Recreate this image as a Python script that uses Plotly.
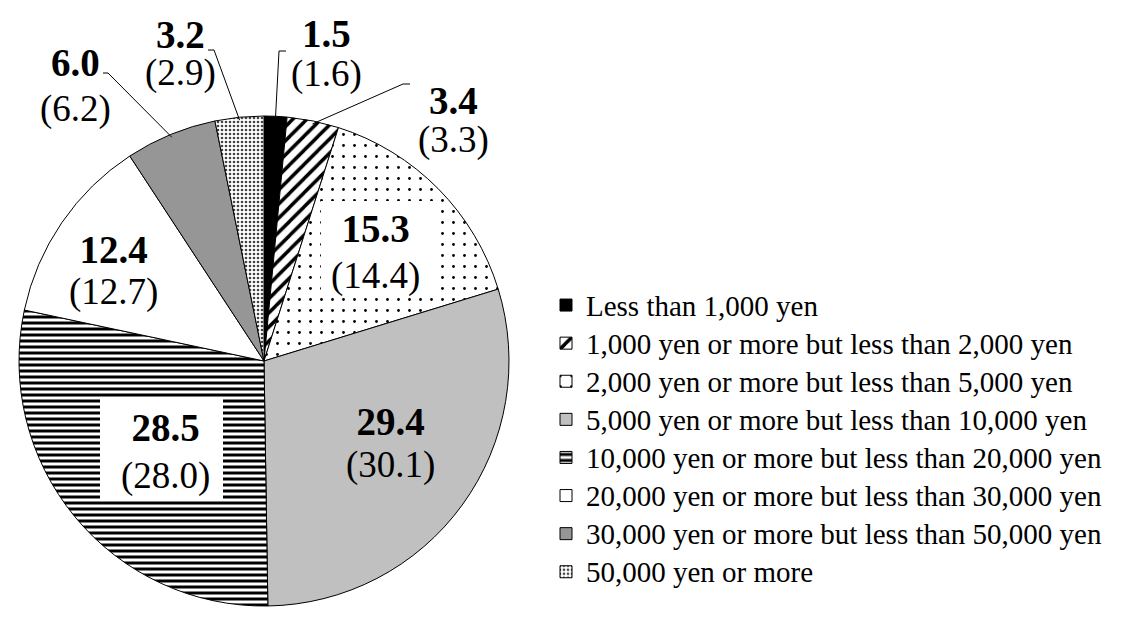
import math
import plotly.graph_objects as go

# ---------------- data ----------------
categories = [
    "Less than 1,000 yen",
    "1,000 yen or more but less than 2,000 yen",
    "2,000 yen or more but less than 5,000 yen",
    "5,000 yen or more but less than 10,000 yen",
    "10,000 yen or more but less than 20,000 yen",
    "20,000 yen or more but less than 30,000 yen",
    "30,000 yen or more but less than 50,000 yen",
    "50,000 yen or more",
]
current_pct = [1.5, 3.4, 15.3, 29.4, 28.5, 12.4, 6.0, 3.2]
previous_pct = [1.6, 3.3, 14.4, 30.1, 28.0, 12.7, 6.2, 2.9]

# ---------------- layout constants (pixels) ----------------
W, H = 1128, 621
CX, CY, R = 256, 353, 245

FONT = "Times New Roman, Liberation Serif, serif"
LEGEND_TEXT_PX = 29
BOLD_PX = 39
PAREN_PX = 37

fill_colors = ["#000000", "#ffffff", "#ffffff", "#c0c0c0", "#ffffff", "#ffffff", "#969696", "#ffffff"]
pat_shapes = ["", "/", ".", "", "-", "", "", "."]
pat_size = [8, 10, 11, 8, 6, 8, 8, 4]
pat_solid = [0.3, 0.35, 0.05, 0.3, 0.5, 0.3, 0.3, 0.35]
pat_fg = ["#000000", "#000000", "#000000", "#000000", "#000000", "#000000", "#000000", "#444444"]
pat_bg = fill_colors

# label placement (pixel centres) for bold value and bracketed value
label_pos = [
    ((318, 26), (319, 65)),
    ((444, 93), (446, 131)),
    ((367, 221), (367, 267)),
    ((382, 414), (382, 456)),
    ((158, 420), (157, 467)),
    ((103, 242), (108, 283)),
    ((67, 55), (68, 100)),
    ((173, 27), (171, 64)),
]
# leader lines for small slices: index -> (elbow, end)
leaders = {
    0: ((271, 43), (278, 43)),
    1: ((395, 76), (402, 76)),
    7: ((206, 42), (200, 42)),
    6: ((100, 65), (95, 65)),
}
# white boxes behind some labels (x0, y0, x1, y1)
boxes = [(313, 193, 430, 288), (92, 390, 215, 492)]


def px(x):
    return x / W


def py(y):
    return 1 - y / H


legend_labels = [f"<span style='font-size:{LEGEND_TEXT_PX}px'>{c}</span>" for c in categories]

fig = go.Figure()
fig.add_trace(go.Pie(
    labels=legend_labels,
    values=current_pct,
    sort=False,
    direction="clockwise",
    rotation=0,
    textinfo="none",
    hoverinfo="value",
    marker=dict(
        colors=fill_colors,
        line=dict(color="#000000", width=1),
        pattern=dict(
            shape=pat_shapes,
            size=pat_size,
            solidity=pat_solid,
            fgcolor=pat_fg,
            bgcolor=pat_bg,
            fillmode="replace",
        ),
    ),
    domain=dict(x=[px(CX - R), px(CX + R)], y=[py(CY + R), py(CY - R)]),
    showlegend=True,
))

shapes = []
for (x0, y0, x1, y1) in boxes:
    shapes.append(dict(type="rect", xref="paper", yref="paper",
                       x0=px(x0), x1=px(x1), y0=py(y1), y1=py(y0),
                       fillcolor="#ffffff", line=dict(width=0), layer="above"))

total = sum(current_pct)
cum = 0.0
mids = []
for v in current_pct:
    mids.append((cum + v / 2) / total)
    cum += v

for i, ((ex, ey), (tx, ty)) in leaders.items():
    th = 2 * math.pi * mids[i]
    sx = CX + (R - 3) * math.sin(th)
    sy = CY - (R - 3) * math.cos(th)
    path = f"M {px(sx)},{py(sy)} L {px(ex)},{py(ey)} L {px(tx)},{py(ty)}"
    shapes.append(dict(type="path", xref="paper", yref="paper", path=path,
                       line=dict(color="#000000", width=1), layer="above"))

annotations = []
for i in range(len(categories)):
    (bx, by), (nx, ny) = label_pos[i]
    gap = ny - by
    text = (f"<span style='font-size:{BOLD_PX}px'><b>{current_pct[i]:.1f}</b></span><br>"
            f"<span style='font-size:{PAREN_PX}px'>({previous_pct[i]:.1f})</span>")
    annotations.append(dict(
        x=px((bx + nx) / 2), y=py((by + ny) / 2), xref="paper", yref="paper",
        showarrow=False, text=text, align="center",
        xanchor="center", yanchor="middle",
        font=dict(family=FONT, size=gap / 1.3, color="#000000")))

fig.update_layout(
    width=W, height=H,
    margin=dict(l=0, r=0, t=0, b=0),
    paper_bgcolor="#ffffff",
    plot_bgcolor="#ffffff",
    shapes=shapes,
    annotations=annotations,
    legend=dict(
        x=px(538), y=py(273), xanchor="left", yanchor="top",
        font=dict(family=FONT, size=27, color="#000000"),
        bgcolor="rgba(0,0,0,0)", traceorder="normal",
    ),
)

fig.write_html("out.html")
